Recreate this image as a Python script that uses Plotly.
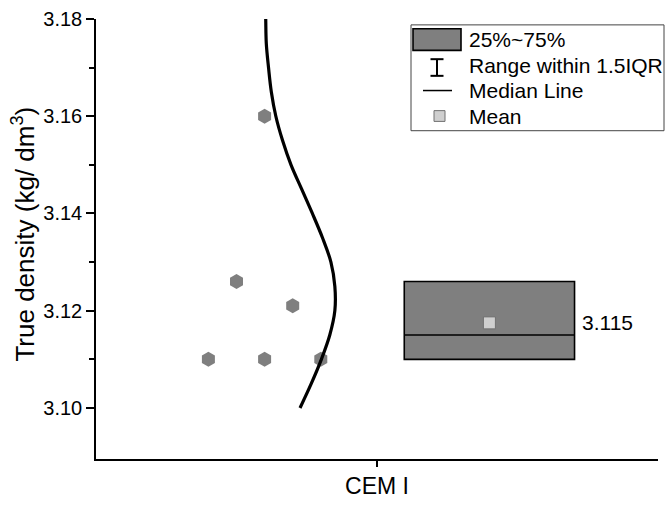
import plotly.graph_objects as go

# ---- data ----
category = ["CEM I"]
point_x = [0.80, 0.75, 0.85, 0.70, 0.80, 0.90]          # jitter positions
point_y = [3.160, 3.126, 3.121, 3.110, 3.110, 3.110]

box_q1 = 3.110
box_median = 3.115
box_q3 = 3.126
box_mean = 3.1175
median_label = "3.115"

curve_y = [3.100, 3.105, 3.110, 3.115, 3.120, 3.125, 3.130, 3.135, 3.140,
           3.145, 3.150, 3.155, 3.160, 3.165, 3.170, 3.175, 3.180, 3.185]
curve_x = [0.863, 0.883, 0.901, 0.916, 0.925, 0.925, 0.918, 0.903, 0.885,
           0.866, 0.847, 0.832, 0.820, 0.812, 0.807, 0.803, 0.802, 0.801]

legend_labels = ["25%~75%", "Range within 1.5IQR", "Median Line", "Mean"]
y_title = "True density (kg/ dm<sup>3</sup>)"

GRAY = "#7f7f7f"
FONT = "Liberation Sans, Arial, sans-serif"

fig = go.Figure()

# box (25%-75%) with median
fig.add_trace(go.Box(
    x=[1.2], q1=[box_q1], median=[box_median], q3=[box_q3],
    lowerfence=[box_q1], upperfence=[box_q3],
    width=0.303, whiskerwidth=0,
    fillcolor=GRAY, line=dict(color="black", width=1.6),
    boxpoints=False, showlegend=False, hoverinfo="skip",
))

# mean marker
fig.add_trace(go.Scatter(
    x=[1.2], y=[box_mean], mode="markers",
    marker=dict(symbol="square", size=12, color="#cfcfcf",
                line=dict(color="#707070", width=1)),
    showlegend=False,
))

# data points
fig.add_trace(go.Scatter(
    x=point_x, y=point_y, mode="markers",
    marker=dict(symbol="hexagon", size=15, color=GRAY, line=dict(width=0)),
    showlegend=False,
))

# distribution curve
fig.add_trace(go.Scatter(
    x=curve_x, y=curve_y, mode="lines",
    line=dict(color="black", width=3.2, shape="spline"),
    showlegend=False,
))

# median value label
fig.add_annotation(x=1.362, y=box_mean, xref="x", yref="y", text=median_label,
                   showarrow=False, xanchor="left", yanchor="middle",
                   font=dict(size=21, color="black", family=FONT))

# ---- manual legend (paper coordinates) ----
L, B, W, H = 96, 42, 562, 449
def px(x):
    return (x - L) / W
def py(y):
    return (507 - B - y) / H

shapes = []
shapes.append(dict(type="rect", xref="paper", yref="paper",
                   x0=px(411), x1=px(664), y0=py(130), y1=py(22),
                   line=dict(color="#444444", width=1), fillcolor="white", layer="above"))
shapes.append(dict(type="rect", xref="paper", yref="paper",
                   x0=px(413), x1=px(461), y0=py(48), y1=py(26),
                   line=dict(color="black", width=1.6), fillcolor=GRAY, layer="above"))
shapes.append(dict(type="line", xref="paper", yref="paper",
                   x0=px(437), x1=px(437), y0=py(74), y1=py(57),
                   line=dict(color="black", width=2), layer="above"))
for yy in (57, 74):
    shapes.append(dict(type="line", xref="paper", yref="paper",
                       x0=px(430.5), x1=px(443.5), y0=py(yy), y1=py(yy),
                       line=dict(color="black", width=2), layer="above"))
shapes.append(dict(type="line", xref="paper", yref="paper",
                   x0=px(423), x1=px(452), y0=py(89), y1=py(89),
                   line=dict(color="black", width=1.5), layer="above"))
shapes.append(dict(type="rect", xref="paper", yref="paper",
                   x0=px(434), x1=px(445), y0=py(120.5), y1=py(109.5),
                   line=dict(color="#707070", width=1), fillcolor="#cfcfcf", layer="above"))

for lab, yy in zip(legend_labels, (37, 63, 89, 115)):
    fig.add_annotation(x=px(467), y=py(yy), xref="paper", yref="paper", text=lab,
                       showarrow=False, xanchor="left", yanchor="middle",
                       font=dict(size=21, color="black", family=FONT))

# y-axis title as rotated annotation (placed slightly below centre as in the reference)
fig.add_annotation(x=px(24), y=py(236), xref="paper", yref="paper", text=y_title,
                   textangle=-90, showarrow=False, xanchor="center", yanchor="middle",
                   font=dict(size=26, color="black", family=FONT))

fig.update_layout(
    width=666, height=507,
    margin=dict(l=L, r=666 - L - W, t=507 - B - H, b=B),
    paper_bgcolor="white", plot_bgcolor="white",
    font=dict(family=FONT, color="black"),
    shapes=shapes,
    showlegend=False,
)

fig.update_xaxes(
    range=[0.5, 1.5], tickvals=[1], ticktext=category,
    showline=True, linecolor="black", linewidth=1.5,
    ticks="outside", ticklen=6, tickwidth=1.5, tickcolor="black",
    showgrid=False, zeroline=False,
    tickfont=dict(size=23, family=FONT, color="black"),
)
fig.update_yaxes(
    range=[3.0895, 3.18], tickvals=[3.10, 3.12, 3.14, 3.16, 3.18],
    tickformat=".2f",
    showline=True, linecolor="black", linewidth=1.5,
    ticks="outside", ticklen=8, tickwidth=1.5, tickcolor="black",
    minor=dict(tickvals=[3.11, 3.13, 3.15, 3.17], ticks="outside",
               ticklen=5, tickwidth=1.5, tickcolor="black"),
    showgrid=False, zeroline=False,
    tickfont=dict(size=20, family=FONT, color="black"),
)

fig.write_html("out.html", config={"displayModeBar": False}, post_script=(
    "document.body.style.margin='0';"
    "document.body.style.padding='0';"
    "document.body.style.overflow='hidden';"
    "document.documentElement.style.overflow='hidden';"
))
